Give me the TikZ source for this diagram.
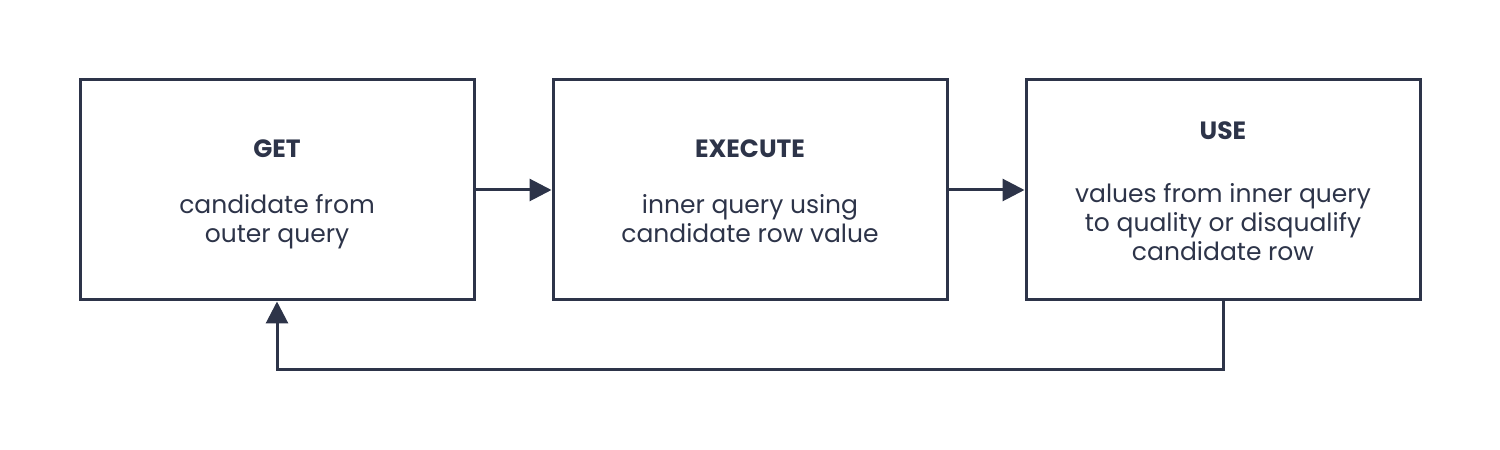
\documentclass[tikz,border=0pt]{standalone}
\usepackage{fontspec}
\setmainfont{Poppins}
\usetikzlibrary{arrows.meta, positioning}
\definecolor{ink}{HTML}{2D3449}
\newcommand{\boxtop}{\rule{0pt}{28pt}}
\newcommand{\boxend}{\rule[-7pt]{0pt}{7pt}}
\tikzstyle{block} = [rectangle, draw=ink, line width=3pt, minimum height=220pt, minimum width=394pt, align=center, text=ink, font=\fontsize{25}{29}\selectfont]
\tikzstyle{arrow} = [-{Triangle[length=22pt, width=22pt]}, draw=ink, line width=3pt]

\begin{document}
\begin{tikzpicture}[x=1pt, y=1pt, node distance=76pt]
\useasboundingbox (0,0) rectangle (1500,450);

\node[block] (get) at (277,260) {\boxtop\textbf{GET}\\[27pt]candidate from\\outer query\boxend};
\node[block, right=of get] (execute) {\boxtop\textbf{EXECUTE}\\[27pt]inner query using\\candidate row value\boxend};
\node[block, right=of execute] (use) {\boxtop\textbf{USE}\\[34pt]values from inner query\\to quality or disqualify\\candidate row\boxend};

\draw[arrow] (get) -- (execute);
\draw[arrow] (execute) -- (use);
\draw[arrow] (use.south) -- ++(0,-68) -| (get.south);

\end{tikzpicture}
\end{document}
